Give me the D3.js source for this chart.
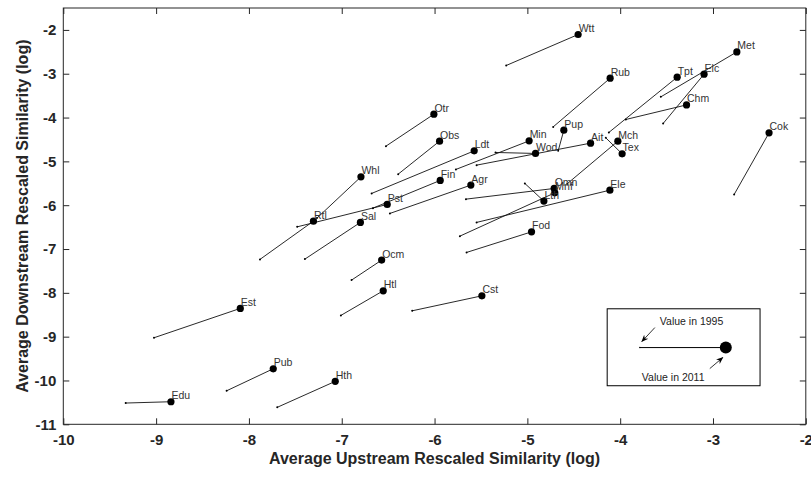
<!DOCTYPE html>
<html><head><meta charset="utf-8">
<script src="https://cdn.jsdelivr.net/npm/d3@7"></script>
<style>
body{margin:0;background:#fff;}
text{font-family:Arial,"Liberation Sans",sans-serif;}
</style></head>
<body><svg id="c" width="811" height="479"></svg>
<script>
const sectors = ["Agr","Min","Fod","Tex","Lth","Wod","Pup","Cok","Chm","Rub","Omn","Met","Mch","Ele","Tpt","Mnf","Elc","Cst","Sal","Whl","Rtl","Htl","Ldt","Wtt","Ait","Otr","Pst","Fin","Est","Obs","Pub","Edu","Hth","Ocm"];
const x2011 = [-5.609,-4.981,-4.955,-3.979,-4.822,-4.912,-4.607,-2.396,-3.285,-4.108,-4.711,-2.743,-4.025,-4.111,-3.386,-4.704,-3.096,-5.490,-6.799,-6.793,-7.305,-6.553,-5.573,-4.453,-4.319,-6.007,-6.510,-5.939,-8.093,-5.946,-7.738,-8.840,-7.070,-6.570];
const y2011 = [-5.542,-4.532,-6.608,-4.828,-5.907,-4.819,-4.288,-4.349,-3.711,-3.102,-5.618,-2.502,-4.539,-5.657,-3.079,-5.718,-3.010,-8.068,-6.393,-5.353,-6.364,-7.953,-4.760,-2.105,-4.584,-3.923,-5.983,-5.435,-8.355,-4.539,-9.733,-10.485,-10.020,-7.253];
const x1995 = [-6.481,-5.770,-5.655,-4.155,-5.027,-5.343,-4.668,-2.772,-3.939,-4.722,-5.662,-3.562,-4.569,-5.547,-4.122,-5.727,-3.537,-6.241,-7.397,-7.267,-7.881,-7.009,-6.678,-5.228,-5.547,-6.524,-7.480,-6.664,-9.023,-6.392,-8.240,-9.328,-7.695,-6.894];
const y1995 = [-6.188,-5.184,-7.078,-4.463,-5.504,-4.797,-4.760,-5.755,-4.044,-4.213,-5.862,-3.528,-5.508,-6.393,-4.340,-6.706,-4.135,-8.410,-7.230,-6.295,-7.237,-8.515,-5.732,-2.812,-5.086,-4.653,-6.494,-6.067,-9.025,-5.292,-10.235,-10.515,-10.613,-7.709];
const xTicks = [-10,-9,-8,-7,-6,-5,-4,-3,-2];
const yTicks = [-11,-10,-9,-8,-7,-6,-5,-4,-3,-2];
const xTitle = "Average Upstream Rescaled Similarity (log)";
const yTitle = "Average Downstream Rescaled Similarity (log)";
const legendBox = {x0:-4.140, x1:-2.493, y0:-8.364, y1:-10.120};
const legendLine = {x0:-3.788, x1:-2.862, y:-9.249};
const legendText1995 = "Value in 1995";
const legendText2011 = "Value in 2011";

const svg = d3.select("#c");
const L=63.3, R=805.8, T=8, B=424.3;
const x = d3.scaleLinear().domain([-10,-2]).range([L,R]);
const y = d3.scaleLinear().domain([-11,-1.5]).range([B,T]);
const axisCol = "#262626";
const tl = 6;
const fmt = d => String(d);

svg.append("rect").attr("x",L).attr("y",T).attr("width",R-L).attr("height",B-T)
  .attr("fill","none").attr("stroke",axisCol).attr("stroke-width",1);

const gx = svg.append("g").attr("transform",`translate(0,${B})`)
  .call(d3.axisBottom(x).tickValues(xTicks).tickSize(-tl).tickPadding(10).tickFormat(fmt));
const gxt = svg.append("g").attr("transform",`translate(0,${T})`)
  .call(d3.axisTop(x).tickValues(xTicks).tickSize(-tl).tickFormat(""));
const gy = svg.append("g").attr("transform",`translate(${L},0)`)
  .call(d3.axisLeft(y).tickValues(yTicks).tickSize(-tl).tickPadding(7).tickFormat(fmt));
const gyr = svg.append("g").attr("transform",`translate(${R},0)`)
  .call(d3.axisRight(y).tickValues(yTicks).tickSize(-tl).tickFormat(""));
[gx,gxt,gy,gyr].forEach(g=>{
  g.select(".domain").remove();
  g.selectAll(".tick line").attr("stroke",axisCol);
  g.selectAll(".tick text").attr("fill",axisCol).style("font-size","15px").style("font-weight","bold")
   .style("font-family","Arial, 'Liberation Sans', sans-serif");
});

svg.append("text").attr("x",(L+R)/2).attr("y",464).attr("text-anchor","middle")
  .attr("fill",axisCol).style("font-size","16px").style("font-weight","bold").text(xTitle);
svg.append("text").attr("transform",`translate(28,${(T+B)/2}) rotate(-90)`).attr("text-anchor","middle")
  .attr("fill",axisCol).style("font-size","16px").style("font-weight","bold").text(yTitle);

const data = sectors.map((s,i)=>({s, x1:x2011[i], y1:y2011[i], x0:x1995[i], y0:y1995[i]}));
const g = svg.append("g");
g.selectAll("line.d").data(data).enter().append("line")
  .attr("x1",d=>x(d.x0)).attr("y1",d=>y(d.y0)).attr("x2",d=>x(d.x1)).attr("y2",d=>y(d.y1))
  .attr("stroke","#111").attr("stroke-width",0.9);
g.selectAll("circle.s").data(data).enter().append("circle")
  .attr("cx",d=>x(d.x0)).attr("cy",d=>y(d.y0)).attr("r",1).attr("fill","#000");
g.selectAll("circle.b").data(data).enter().append("circle")
  .attr("cx",d=>x(d.x1)).attr("cy",d=>y(d.y1)).attr("r",3.6).attr("fill","#000");
g.selectAll("text.l").data(data).enter().append("text")
  .attr("x",d=>x(d.x1)+0.5).attr("y",d=>y(d.y1)-2.5)
  .attr("fill","#333").style("font-size","10.5px").text(d=>d.s);

svg.append("rect").attr("x",x(legendBox.x0)).attr("y",y(legendBox.y0))
  .attr("width",x(legendBox.x1)-x(legendBox.x0)).attr("height",y(legendBox.y1)-y(legendBox.y0))
  .attr("fill","#fff").attr("stroke","#000").attr("stroke-width",1);
svg.append("line").attr("x1",x(legendLine.x0)).attr("x2",x(legendLine.x1))
  .attr("y1",y(legendLine.y)).attr("y2",y(legendLine.y)).attr("stroke","#000").attr("stroke-width",1);
svg.append("circle").attr("cx",x(legendLine.x0)).attr("cy",y(legendLine.y)).attr("r",0.8).attr("fill","#000");
svg.append("circle").attr("cx",x(legendLine.x1)).attr("cy",y(legendLine.y)).attr("r",6).attr("fill","#000");
const lx0=x(legendLine.x0), lx1=x(legendLine.x1), ly=y(legendLine.y);
svg.append("text").attr("x",lx0+20).attr("y",ly-23).attr("fill","#222").style("font-size","10.5px").text(legendText1995);
svg.append("text").attr("x",lx0+2).attr("y",ly+33).attr("fill","#222").style("font-size","10.5px").text(legendText2011);
const defs = svg.append("defs");
defs.append("marker").attr("id","ah").attr("viewBox","0 0 10 10").attr("refX",9).attr("refY",5)
  .attr("markerWidth",9).attr("markerHeight",9).attr("orient","auto")
  .append("path").attr("d","M0,1 L10,5 L0,9 L3,5 Z").attr("fill","#000");
svg.append("line").attr("x1",lx0+15).attr("y1",ly-20).attr("x2",lx0+2).attr("y2",ly-6)
  .attr("stroke","#000").attr("stroke-width",0.8).attr("marker-end","url(#ah)");
svg.append("line").attr("x1",lx1-16).attr("y1",ly+21).attr("x2",lx1-3).attr("y2",ly+10)
  .attr("stroke","#000").attr("stroke-width",0.8).attr("marker-end","url(#ah)");
</script></body></html>
